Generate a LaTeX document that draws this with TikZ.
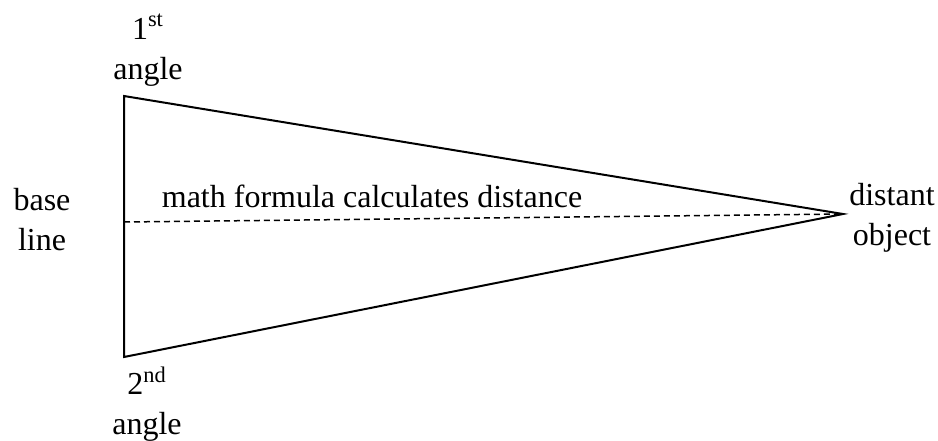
\documentclass[tikz,border=0pt]{standalone}
\usepackage{fontspec}
\setmainfont{Liberation Serif}

\begin{document}
\begin{tikzpicture}[color=black, x=0.5pt, y=-0.5pt,
    lbl/.style={font=\fontsize{16}{20}\selectfont, align=center, inner sep=0pt}]
  \useasboundingbox (0,0) rectangle (938,440);
  % Corners of the triangle
  \coordinate (first) at (124,96);
  \coordinate (second) at (124,357);
  \coordinate (object) at (843,214);
  \coordinate (base) at (124,222);
  \draw[line width=1pt, line join=miter] (first) -- (object) -- (second) -- cycle;
  \draw[line width=0.75pt, dash pattern=on 3pt off 2pt] (base) -- (object);
  % Labels
  \node[lbl] (firstlbl) at (148,50) {1\textsuperscript{st}\\angle};
  \node[lbl] (secondlbl) at (147,404) {2\textsuperscript{nd}\\angle};
  \node[lbl] (baselbl) at (42,220) {base\\line};
  \node[lbl] (objectlbl) at (892,218) {distant\\object};
  \node[lbl, anchor=base] (formula) at (372,207) {math formula calculates distance};
\end{tikzpicture}
\end{document}
